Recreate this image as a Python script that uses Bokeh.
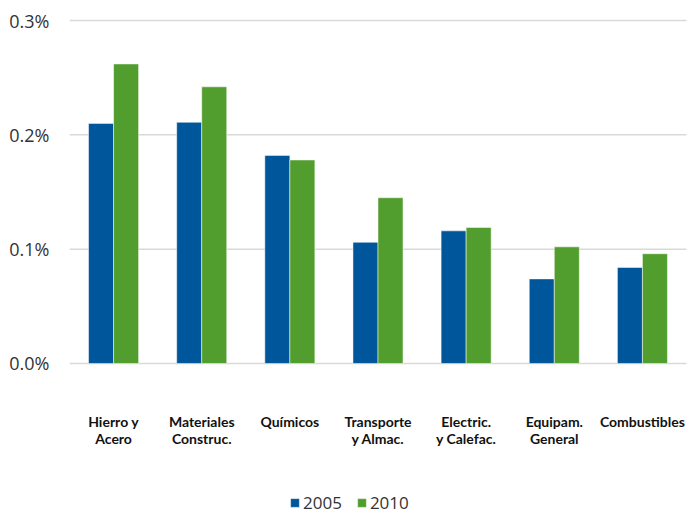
from bokeh.plotting import figure
from bokeh.models import ColumnDataSource, Range1d, FixedTicker, PrintfTickFormatter, Legend, LegendItem
from bokeh.core.properties import value
from bokeh.embed import file_html
from bokeh.resources import INLINE

# Sector categories (two-line labels) and shares in percent
categories = ["Hierro y\nAcero", "Materiales\nConstruc.", "Químicos", "Transporte\ny Almac.",
              "Electric.\ny Calefac.", "Equipam.\nGeneral", "Combustibles"]
values_2005 = [0.210, 0.211, 0.182, 0.106, 0.116, 0.074, 0.084]
values_2010 = [0.262, 0.242, 0.178, 0.145, 0.119, 0.102, 0.096]
series_names = ["2005", "2010"]
y_ticks = [0.0, 0.1, 0.2, 0.3]

BLUE = "#00569a"
GREEN = "#519e2f"

n = len(categories)
xc = [i + 0.5 for i in range(n)]
bw = 0.284

src = ColumnDataSource(dict(x=xc, cat=categories, v2005=values_2005, v2010=values_2010,
                            x1=[x - bw / 2 for x in xc], x2=[x + bw / 2 for x in xc]))

# plot frame reaches down to the canvas bottom so labels and legend sit inside it
p = figure(width=696, height=514, x_range=Range1d(0, 7.1135), y_range=Range1d(-0.1321, 0.30875),
           output_backend="svg", toolbar_location=None,
           min_border_left=69, min_border_right=0, min_border_top=10, min_border_bottom=0)
p.outline_line_color = None
p.xaxis.visible = False
p.xgrid.grid_line_color = None
p.ygrid.grid_line_color = None

# horizontal gridlines across the category span
p.segment(x0=[0] * len(y_ticks), x1=[n] * len(y_ticks), y0=y_ticks, y1=y_ticks,
          line_color="#d9d9d9", line_width=1.5)

r1 = p.vbar(x="x1", top="v2005", width=bw, source=src,
            fill_color=BLUE, line_color="white", line_alpha=0.5, line_width=1)
r2 = p.vbar(x="x2", top="v2010", width=bw, source=src,
            fill_color=GREEN, line_color="white", line_alpha=0.5, line_width=1)

# category labels under the bars
p.text(x="x", y=-0.0435, text="cat", source=src, text_align="center", text_baseline="top",
       text_font=value("Lato"), text_font_style="bold", text_font_size="14px",
       text_color="#111111", text_line_height=1.0)

# y axis
p.yaxis.ticker = FixedTicker(ticks=y_ticks)
p.yaxis.formatter = PrintfTickFormatter(format="%.1f%%")
p.yaxis.axis_line_color = None
p.yaxis.major_tick_line_color = None
p.yaxis.minor_tick_line_color = None
p.yaxis.major_label_standoff = 14
p.yaxis.major_label_text_font = "Open Sans"
p.yaxis.major_label_text_font_size = "18px"
p.yaxis.major_label_text_color = "#333333"

legend = Legend(items=[LegendItem(label=series_names[0], renderers=[r1]),
                       LegendItem(label=series_names[1], renderers=[r2])],
                orientation="horizontal", location=(220, 0),
                label_text_font="Open Sans", label_text_font_size="17px",
                label_text_color="#333333", glyph_width=11, glyph_height=11,
                label_standoff=3, spacing=14, border_line_color=None,
                background_fill_alpha=0, padding=0, margin=0)
p.add_layout(legend)

open("out.html", "w").write(file_html(p, INLINE))
